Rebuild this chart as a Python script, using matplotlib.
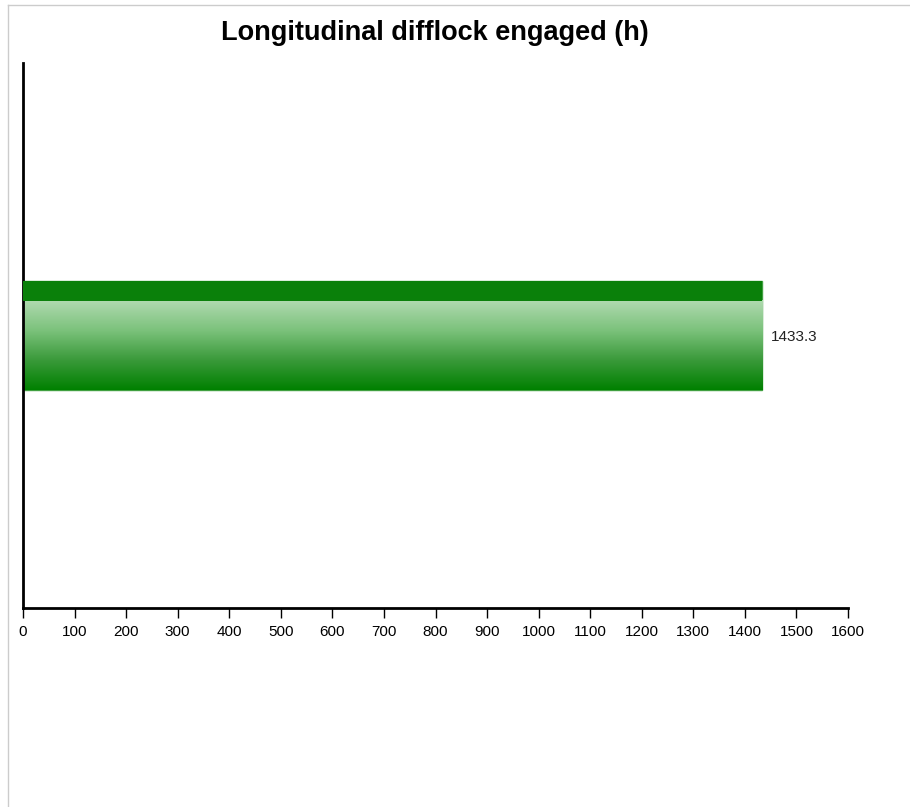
import numpy as np
import matplotlib
matplotlib.use("Agg")
import matplotlib.pyplot as plt
from matplotlib.colors import LinearSegmentedColormap
from matplotlib.lines import Line2D

title = "Longitudinal difflock engaged (h)"
categories = [""]
values = [1433.3]
x_ticks = list(range(0, 1700, 100))

W, H = 910, 807
plt.rcParams["font.family"] = ["Liberation Sans", "DejaVu Sans"]

fig = plt.figure(figsize=(W / 100, H / 100), dpi=100)
fig.patch.set_facecolor("white")

# light frame around the chart area (left and top edges visible)
fig.add_artist(Line2D([8 / W, 8 / W], [0, 1 - 5 / H], transform=fig.transFigure,
                      color="#cccccc", lw=1))
fig.add_artist(Line2D([8 / W, 1], [1 - 5 / H, 1 - 5 / H], transform=fig.transFigure,
                      color="#cccccc", lw=1))

ax = fig.add_axes([23 / W, (H - 608) / H, 825 / W, 545 / H])
ax.set_xlim(0, 1600)
ax.set_ylim(-0.5, 0.5)

ypos = np.arange(len(categories))
bars = ax.barh(ypos, values, height=0.2, color="#008000", edgecolor="#40a040",
               linewidth=1, zorder=2)

grad_cmap = LinearSegmentedColormap.from_list("g", ["#008000", "#3a9a3a", "#7cc27c", "#b0dab0"])
for b in bars:
    x0, y0, w, h = b.get_x(), b.get_y(), b.get_width(), b.get_height()
    band = h * 0.18
    # dark top band
    ax.barh(y0 + h - band / 2, w, height=band, left=x0, color="#0a800a",
            linewidth=0, zorder=3)
    grad = np.linspace(0, 1, 256).reshape(-1, 1)
    im = ax.imshow(grad, cmap=grad_cmap, origin="lower", aspect="auto",
                   extent=[x0, x0 + w, y0, y0 + h - band], zorder=2.5,
                   interpolation="bicubic")
    im.set_clip_path(b)
    ax.text(x0 + w + 17, y0 + h / 2, f"{w:.1f}", va="center_baseline", ha="left",
            fontsize=11, color="#222222")
ax.set_xlim(0, 1600)
ax.set_ylim(-0.5, 0.5)

ax.set_xticks(x_ticks)
ax.set_xticklabels([str(t) for t in x_ticks], fontsize=11)
ax.set_yticks([])
ax.tick_params(axis="x", length=7, width=1, pad=5, colors="black")
for s in ["top", "right"]:
    ax.spines[s].set_visible(False)
for s in ["left", "bottom"]:
    ax.spines[s].set_linewidth(2)
    ax.spines[s].set_color("black")

fig.text(435 / W, 1 - 33 / H, title, ha="center", va="center",
         fontsize=19.5, fontweight="bold")

fig.savefig("out.png", dpi=100)
